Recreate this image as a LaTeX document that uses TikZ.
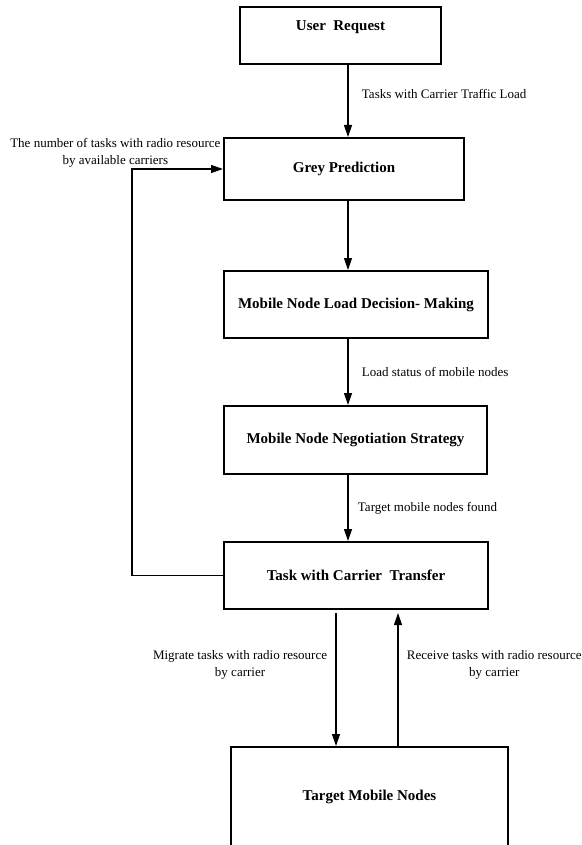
\documentclass[tikz,border=0pt]{standalone}
\usepackage{fontspec}
\setmainfont{Liberation Serif}
\usetikzlibrary{arrows.meta}

\begin{document}
\begin{tikzpicture}[x=1pt, y=-1pt,
  main/.style = {draw, rectangle, line width=2pt, inner sep=0pt, align=center, font=\fontsize{15}{18}\selectfont\bfseries},
  flow/.style = {-{Triangle[length=12pt, width=8pt]}, line width=1.2pt},
  lbl/.style = {font=\fontsize{13}{17}\selectfont, align=center}]

\useasboundingbox (0,0) rectangle (581,845);

\node[main, minimum width=201pt, minimum height=57pt] (1) at (340.5,35.5) {User\ \ Request\\[1pt]\mbox{}};
\node[main, minimum width=240pt, minimum height=62pt] (2) at (344,169) {Grey Prediction};
\node[main, minimum width=264pt, minimum height=67pt] (3) at (356,304.5) {Mobile Node Load Decision- Making};
\node[main, minimum width=263pt, minimum height=68pt] (4) at (355.5,440) {Mobile Node Negotiation Strategy};
\node[main, minimum width=264pt, minimum height=67pt] (5) at (356,575.5) {Task with Carrier\ \ Transfer};
\node[main, minimum width=277pt, minimum height=100pt] (6) at (369.5,797) {Target Mobile Nodes};

\coordinate (ax) at (348,0);
\coordinate (fb) at (132,0);
\coordinate (dn) at (336,0);
\coordinate (up) at (398,0);

\draw[flow] (1.south -| ax) -- node[lbl, right=10pt, pos=0.4] {Tasks with Carrier Traffic Load} (2.north -| ax);
\draw[flow] (2.south -| ax) -- (3.north -| ax);
\draw[flow] (3.south -| ax) -- node[lbl, right=10pt, midway] {Load status of mobile nodes} (4.north -| ax);
\draw[flow] (4.south -| ax) -- node[lbl, right=6pt, midway] {Target mobile nodes found} (5.north -| ax);
\draw[flow] (5.west) -- (5.west -| fb) |- (2.west) node[lbl, anchor=south east, inner sep=1pt, xshift=-1pt] {The number of tasks with radio resource\\by available carriers};
\draw[flow, shorten <=3pt] (5.south -| dn) -- node[lbl, left=5pt, pos=0.4] {Migrate tasks with radio resource\\by carrier} (6.north -| dn);
\draw[flow, shorten >=3pt] (6.north -| up) -- node[lbl, right=5pt, pos=0.6] {Receive tasks with radio resource\\by carrier} (5.south -| up);

\end{tikzpicture}
\end{document}
